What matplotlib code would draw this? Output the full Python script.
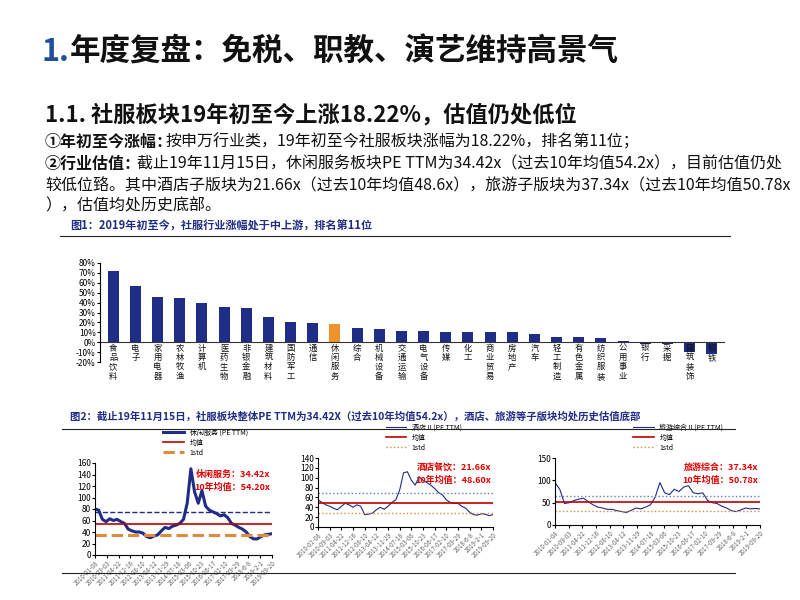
import matplotlib
matplotlib.use("Agg")
import matplotlib.pyplot as plt
import numpy as np

plt.rcParams["font.family"] = ["Noto Sans CJK SC", "DejaVu Sans"]

# ---- data ----
industries = ["食品饮料", "电子", "家用电器", "农林牧渔", "计算机", "医药生物", "非银金融",
              "建筑材料", "国防军工", "通信", "休闲服务", "综合", "机械设备", "交通运输",
              "电气设备", "传媒", "化工", "商业贸易", "房地产", "汽车", "轻工制造",
              "有色金属", "纺织服装", "公用事业", "银行", "采掘", "建筑装饰", "钢铁"]
returns = [72, 57, 46, 45, 40, 36, 35, 25, 20, 19, 18.22, 14, 13, 11, 11, 10, 10, 10, 10,
           8, 5, 5, 4, 1, -2, -2, -10, -12]
highlight = "休闲服务"

date_ticks = ["2010-01-08", "2010-09-03", "2011-04-22", "2011-12-16", "2012-08-10",
              "2013-04-12", "2013-11-29", "2014-07-18", "2015-03-06", "2015-10-23",
              "2016-06-17", "2017-02-10", "2017-09-29", "2018-6-8", "2019-2-1", "2019-09-20"]

pe_leisure = [80, 78, 62, 58, 63, 60, 62, 58, 55, 45, 42, 40, 40, 38, 32, 30, 33, 35, 42, 48,
              46, 50, 52, 55, 62, 90, 150, 110, 90, 112, 85, 78, 75, 72, 68, 70, 65, 55, 52,
              48, 45, 40, 32, 28, 28, 32, 35, 36, 37]
pe_leisure_stats = [54.20, 75, 34]  # mean, +1std, -1std

pe_hotel = [55, 50, 45, 42, 38, 35, 42, 48, 45, 40, 45, 42, 25, 26, 28, 35, 40, 36, 42, 50,
            55, 75, 110, 112, 95, 85, 102, 95, 90, 85, 78, 70, 65, 55, 50, 48, 48, 42, 38,
            30, 25, 24, 27, 26, 23, 25]
pe_hotel_stats = [48.6, 70, 28]

pe_travel = [95, 80, 48, 50, 55, 58, 60, 52, 45, 40, 38, 35, 35, 32, 30, 28, 33, 38, 36, 40,
             45, 62, 95, 72, 68, 80, 75, 85, 88, 72, 70, 72, 55, 50, 48, 42, 38, 32, 30, 34,
             38, 36, 37, 36]
pe_travel_stats = [50.78, 66, 31]

NAVY = "#1F2D86"

fig = plt.figure(figsize=(8, 6), dpi=100)
W, H = 800, 600
def fx(x): return x / W
def fy(y): return 1 - y / H

# ---- header texts ----
fig.text(fx(42), fy(52), "1.", fontsize=22, fontweight="bold", color="#1F4E9C", va="center")
fig.text(fx(70), fy(52), "年度复盘：免税、职教、演艺维持高景气", fontsize=22, fontweight="bold",
         color="#111111", va="center")
fig.text(fx(45), fy(115), "1.1. 社服板块19年初至今上涨18.22%，估值仍处低位", fontsize=16,
         fontweight="bold", color="#111111", va="center")
fs = 11.5
fig.text(fx(45), fy(142), "①年初至今涨幅：", fontsize=fs, fontweight="bold", color="#111111", va="center")
fig.text(fx(166), fy(142), "按申万行业类，19年初至今社服板块涨幅为18.22%，排名第11位；",
         fontsize=fs, color="#111111", va="center")
fig.text(fx(45), fy(164), "②行业估值：", fontsize=fs, fontweight="bold", color="#111111", va="center")
fig.text(fx(137), fy(164), "截止19年11月15日，休闲服务板块PE TTM为34.42x（过去10年均值54.2x），目前估值仍处",
         fontsize=fs, color="#111111", va="center")
fig.text(fx(45), fy(186), "较低位臵。其中酒店子版块为21.66x（过去10年均值48.6x），旅游子版块为37.34x（过去10年均值50.78x",
         fontsize=fs, color="#111111", va="center")
fig.text(fx(45), fy(206), "），估值均处历史底部。", fontsize=fs, color="#111111", va="center")

fig.text(fx(70), fy(226), "图1：2019年初至今，社服行业涨幅处于中上游，排名第11位", fontsize=8,
         fontweight="bold", color=NAVY, va="center")
fig.add_artist(plt.Line2D([fx(60), fx(730)], [fy(236), fy(236)], color="#222222", lw=0.8))
fig.text(fx(70), fy(416), "图2：截止19年11月15日，社服板块整体PE TTM为34.42X（过去10年均值54.2x），酒店、旅游等子版块均处历史估值底部",
         fontsize=7.5, fontweight="bold", color=NAVY, va="center")
fig.add_artist(plt.Line2D([fx(62), fx(735)], [fy(429), fy(429)], color="#222222", lw=0.8))
fig.add_artist(plt.Line2D([fx(62), fx(735)], [fy(573), fy(573)], color="#222222", lw=0.8))

# ---- bar chart ----
ax = fig.add_axes([fx(100), fy(362), fx(725 - 100), (362 - 263) / H])
x = np.arange(len(industries))
colors = ["#F0922B" if n == highlight else NAVY for n in industries]
ax.bar(x, returns, width=0.5, color=colors)
ax.set_ylim(-20, 80)
ax.set_xlim(-0.6, len(industries) - 0.4)
ax.set_yticks(range(-20, 81, 10))
ax.set_yticklabels([f"{v}%" for v in range(-20, 81, 10)], fontsize=6)
ax.axhline(0, color="#333333", lw=0.8)
for s in ["top", "right", "bottom"]:
    ax.spines[s].set_visible(False)
ax.set_xticks([])
ax.tick_params(axis="y", length=2, pad=1)
for i, n in enumerate(industries):
    ax.text(i, -1.5, "\n".join(n), fontsize=6, ha="center", va="top",
            linespacing=1.05, color="#111111")

# ---- line charts ----
def line_chart(rect, series, stats, ymax, yticks, leg, lw, std_styles, label_text):
    a = fig.add_axes(rect)
    xs = np.arange(len(series))
    a.plot(xs, series, color=NAVY, lw=lw, label=leg)
    a.axhline(stats[0], color="#C00000", lw=1.2, label="均值")
    a.axhline(stats[1], **std_styles[0])
    a.axhline(stats[2], label="1std", **std_styles[1])
    a.set_ylim(0, ymax)
    a.set_xlim(0, len(series) - 1)
    a.set_yticks(yticks)
    a.tick_params(axis="y", labelsize=6, length=2, pad=1)
    tpos = np.linspace(0, len(series) - 1, len(date_ticks))
    a.set_xticks(tpos)
    a.set_xticklabels(date_ticks, rotation=45, ha="right", fontsize=4.5, color="#666666",
                      rotation_mode="anchor")
    a.tick_params(axis="x", length=2, pad=1)
    for s in ["top", "right"]:
        a.spines[s].set_visible(False)
    handles, labels = a.get_legend_handles_labels()
    a.legend(handles, labels, loc="lower left", bbox_to_anchor=(0.35, 1.0), fontsize=5,
             frameon=False, handlelength=3, labelspacing=0.3)
    a.text(0.99, 0.93, label_text, transform=a.transAxes, ha="right", va="top",
           fontsize=6.5, fontweight="bold", color="#E00000", linespacing=1.5)
    return a

line_chart([fx(95), fy(555), fx(272 - 95), (555 - 463) / H], pe_leisure, pe_leisure_stats,
           160, range(0, 161, 20), "休闲服务 (PE TTM)", 2.2,
           [dict(color=NAVY, ls="--", lw=1.0), dict(color="#E08A3C", ls="--", lw=2.2)],
           "休闲服务：34.42x\n10年均值：54.20x")
line_chart([fx(318), fy(527), fx(493 - 318), (527 - 458) / H], pe_hotel, pe_hotel_stats,
           140, range(0, 141, 20), "酒店 II (PE TTM)", 0.8,
           [dict(color="#5A7FC4", ls=":", lw=1.0), dict(color="#E08A3C", ls=":", lw=1.0)],
           "酒店餐饮：21.66x\n10年均值：48.60x")
line_chart([fx(555), fy(525), fx(760 - 555), (525 - 458) / H], pe_travel, pe_travel_stats,
           150, [0, 50, 100, 150], "旅游综合 II (PE TTM)", 0.8,
           [dict(color="#5A7FC4", ls=":", lw=1.0), dict(color="#E08A3C", ls=":", lw=1.0)],
           "旅游综合：37.34x\n10年均值：50.78x")

fig.savefig("out.png", dpi=100)
